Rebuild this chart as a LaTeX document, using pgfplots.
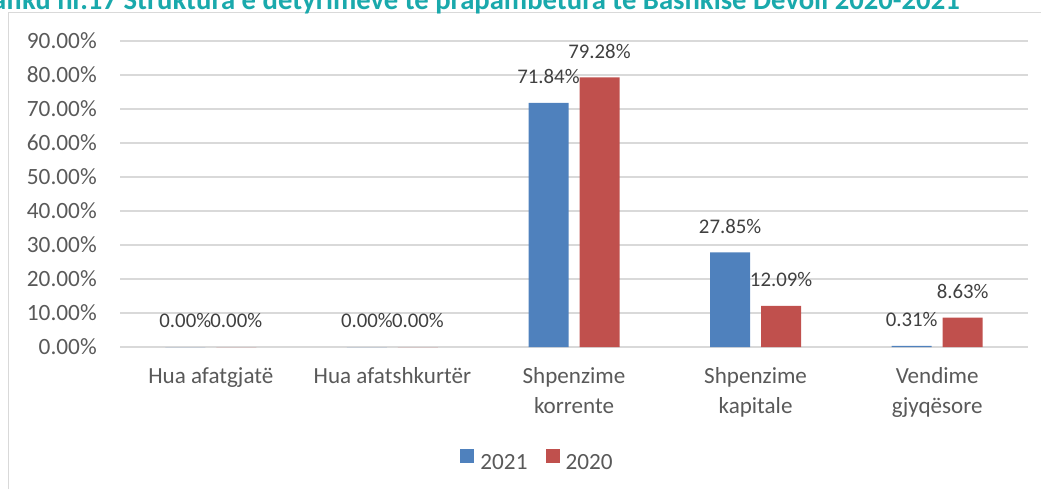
\documentclass[border=0pt]{standalone}
\usepackage{fontspec}
\setmainfont{Carlito}
\usepackage{pgfplots}
\pgfplotsset{compat=1.18}

\definecolor{c2021}{HTML}{4F81BD}
\definecolor{c2020}{HTML}{C0504D}
\definecolor{gridgray}{HTML}{D9D9D9}
\definecolor{labelgray}{HTML}{595959}
\definecolor{valgray}{HTML}{404040}
\definecolor{titleteal}{HTML}{1AA9AC}

% values in percent
\pgfplotstableread{
x v2021 v2020
0 0     0
1 0     0
2 71.84 79.28
3 27.85 12.09
4 0.31  8.63
}\debtdata

\begin{document}
\begin{tikzpicture}
% 1 px of the reference = 0.75pt
\useasboundingbox (0,0) rectangle (780.75pt,366.75pt);

% chart frame
\draw[gridgray, line width=1.1pt] (6.4pt,0) -- (6.4pt,357.4pt) -- (781pt,357.4pt);

% title, cut off at the top like in the screenshot
\begin{scope}
\clip (0,0) rectangle (780.75pt,366.75pt);
\node[anchor=base east, inner sep=0pt, text=titleteal,
      font=\fontsize{21.5}{25}\selectfont\bfseries] at (720pt,359.6pt)
  {Grafiku nr.17 Struktura e detyrimeve të prapambetura të Bashkisë Devoll 2020-2021};
\end{scope}

\begin{axis}[
    at={(90pt,106.5pt)},
    anchor=south west,
    scale only axis,
    width=681pt,
    height=229.5pt,
    ybar=8.25pt,
    bar width=30pt,
    xmin=-0.5, xmax=4.5,
    ymin=0, ymax=90,
    ytick={0,10,...,90},
    xtick={0,...,4},
    xticklabels={Hua afatgjatë, Hua afatshkurtër, {Shpenzime\\korrente},
                 {Shpenzime\\kapitale}, {Vendime\\gjyqësore}},
    /pgf/number format/assume math mode=true,
    yticklabel={\pgfmathprintnumber[fixed,fixed zerofill,precision=2]{\tick}\%},
    axis line style={draw=none},
    major tick length=0pt,
    ymajorgrids,
    major grid style={gridgray, line width=0.9pt},
    yticklabel style={anchor=east, inner sep=0pt, xshift=-17.25pt,
        text=labelgray, font=\fontsize{17.5}{21}\selectfont},
    xticklabel style={anchor=north, inner sep=0pt, yshift=-15pt, align=center,
        text=labelgray, font=\fontsize{17.3}{22.5}\selectfont},
    nodes near coords={\pgfmathprintnumber[fixed,fixed zerofill,precision=2]{\pgfplotspointmeta}\%},
    every node near coord/.append style={anchor=base, inner sep=0pt, yshift=14.3pt,
        text=valgray, font=\fontsize{15.6}{18}\selectfont},
    clip=false,
    legend columns=2,
    legend style={draw=none, fill=none, at={(0.4587,-0.369)}, anchor=center,
        font=\fontsize{17.4}{21}\selectfont, text=labelgray,
        nodes={inner sep=0pt},
        /tikz/every even column/.append style={column sep=13.5pt}},
    legend image code/.code={\fill[#1] (0pt,0pt) rectangle (10.5pt,10.5pt);
        \path (15pt,0pt);},
]
\addplot[fill=c2021, draw=none] table[x=x, y=v2021] {\debtdata};
\addlegendentry{2021}
\addplot[fill=c2020, draw=none] table[x=x, y=v2020] {\debtdata};
\addlegendentry{2020}
\end{axis}
\end{tikzpicture}
\end{document}
